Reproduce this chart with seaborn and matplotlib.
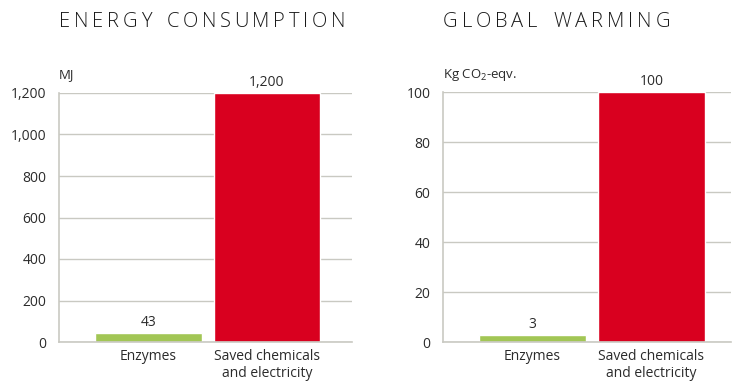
import matplotlib
matplotlib.use("Agg")
import matplotlib.pyplot as plt
import seaborn as sns
import pandas as pd

# data
categories = ["Enzymes", "Saved chemicals\nand electricity"]
energy_mj = [43, 1200]
warming_kg = [3, 100]
energy_ticks = [0, 200, 400, 600, 800, 1000, 1200]
warming_ticks = [0, 20, 40, 60, 80, 100]

bar_colors = ["#a2c655", "#d9001f"]
grid_color = "#c9c9c2"
text_color = "#2b2b2b"

sns.set_style("white")
plt.rcParams["font.family"] = ["Open Sans", "DejaVu Sans"]
plt.rcParams["mathtext.fontset"] = "custom"
plt.rcParams["mathtext.rm"] = "Open Sans"
plt.rcParams["mathtext.it"] = "Open Sans"

fig = plt.figure(figsize=(7.32, 3.82), dpi=100)
W, H = 732, 382
renderer = fig.canvas.get_renderer()


def spaced_title(x0, x1, y, title):
    # place letters one by one so the title fills x0..x1 (letter tracking)
    items = []
    for ch in title:
        t = fig.text(0, 1 - y / H, ch if ch != " " else "", fontsize=14.5,
                     fontweight="light", color="#1a1a1a", va="center")
        w = t.get_window_extent(renderer).width if ch != " " else 8
        items.append((t, w, ch))
    total = sum(w for _, w, _ in items)
    track = (x1 - x0 - total) / (len(items) - 1)
    x = x0
    for t, w, ch in items:
        t.set_x(x / W)
        x += w + track


def panel(left_px, right_px, top_px, values, ticks, title, title_end, unit, fmt):
    ax = fig.add_axes([left_px / W, (H - 342) / H,
                       (right_px - left_px) / W, (342 - top_px) / H])
    df = pd.DataFrame({"cat": categories, "val": values})
    sns.barplot(data=df, x="cat", y="val", hue="cat", palette=bar_colors,
                width=0.9, legend=False, ax=ax, saturation=1)
    ax.set_ylim(0, ticks[-1])
    ax.set_yticks(ticks)
    ax.set_yticklabels([fmt(t) for t in ticks])
    ax.yaxis.grid(True, color=grid_color, linewidth=1)
    ax.set_axisbelow(True)
    ax.tick_params(length=0, labelsize=10, colors=text_color)
    ax.tick_params(axis="y", pad=9)
    ax.tick_params(axis="x", pad=5)
    ax.set_xlabel("")
    ax.set_ylabel("")
    for s in ["top", "right"]:
        ax.spines[s].set_visible(False)
    for s in ["left", "bottom"]:
        ax.spines[s].set_color(grid_color)
        ax.spines[s].set_linewidth(1.2)
    for i, v in enumerate(values):
        ax.annotate(fmt(v), (i, v), xytext=(0, 2), textcoords="offset points",
                    ha="center", va="bottom", fontsize=10, color=text_color)
    spaced_title(left_px, title_end, 22, title)
    fig.text(left_px / W, 1 - 75 / H, unit, fontsize=9.5, color=text_color,
             va="center", ha="left")
    return ax


ax1 = panel(59, 352, 93, energy_mj, energy_ticks, "ENERGY CONSUMPTION", 345,
            "MJ", lambda v: f"{v:,}")
ax1.set_xlim(-0.755, 1.717)
ax2 = panel(443, 731, 92, warming_kg, warming_ticks, "GLOBAL WARMING", 670,
            "Kg CO$_2$-eqv.", lambda v: f"{v}")
ax2.set_xlim(-0.752, 1.67)

fig.savefig("out.png", dpi=100)
